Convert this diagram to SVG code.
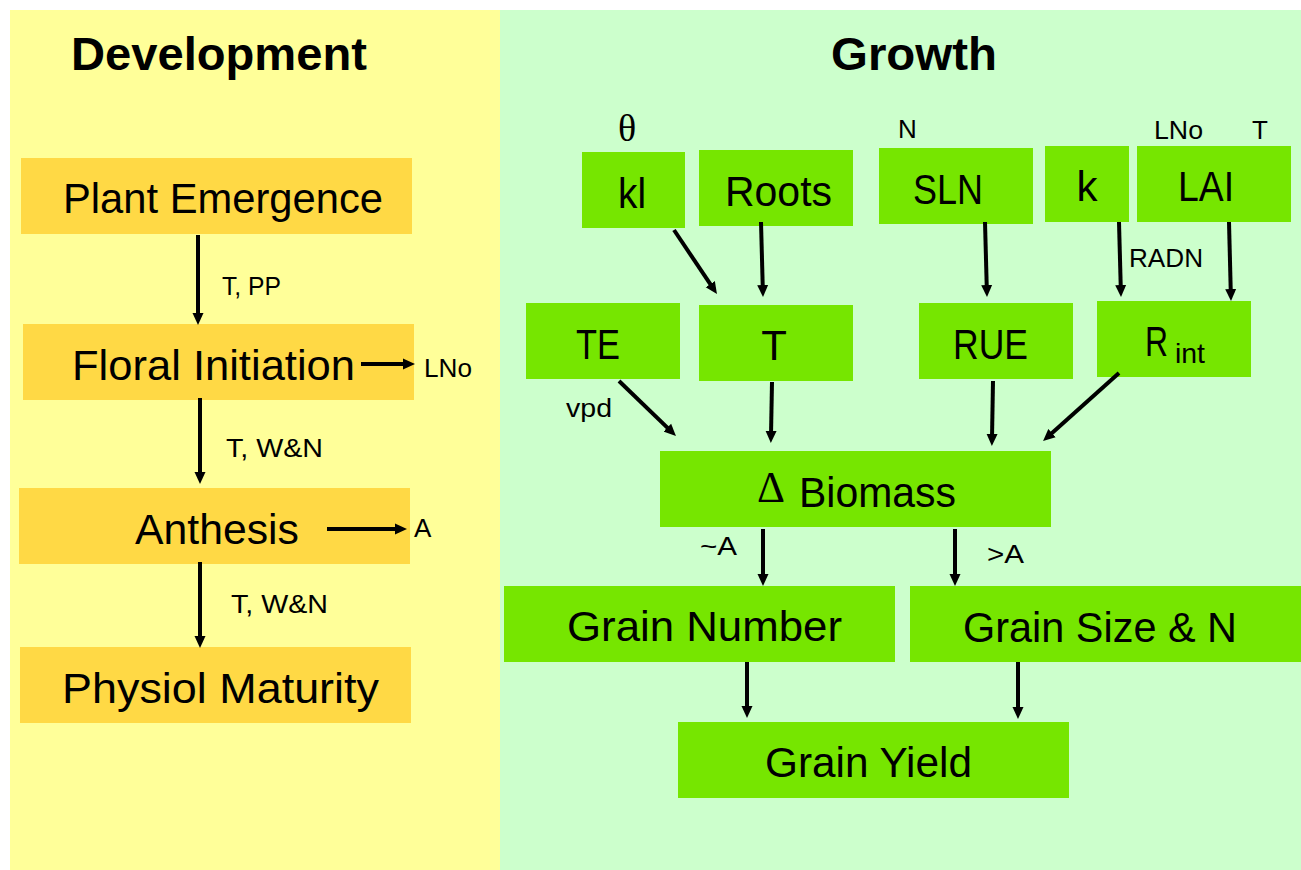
<svg xmlns="http://www.w3.org/2000/svg" width="1301" height="870" viewBox="0 0 1301 870">
<style>
.dev{fill:#FFD945}
.grn{fill:#76E600}
.t{font-family:"Liberation Sans",Arial,sans-serif;fill:#000}
.big{font-size:42px}
.sm{font-size:26px}
.ttl{font-size:47px;font-weight:bold}
.sym{font-family:"Liberation Serif","DejaVu Serif",serif;fill:#000}
.c{stroke:#000;stroke-width:4;fill:none;marker-end:url(#ah)}
</style>
<defs>
<marker id="ah" viewBox="0 0 12 12" markerWidth="12" markerHeight="12" markerUnits="userSpaceOnUse" refX="4" refY="6" orient="auto">
<path d="M0,0.5 L12,6 L0,11.5 z" fill="#000"/>
</marker>
</defs>
<rect x="0" y="0" width="1301" height="870" fill="#fff"/>
<rect id="panel-dev" x="10" y="10" width="490" height="860" fill="#FFFF99"/>
<rect id="panel-growth" x="500" y="10" width="801" height="860" fill="#CCFFCC"/>
<text class="t ttl" x="71" y="70" textLength="296" lengthAdjust="spacingAndGlyphs">Development</text>
<text class="t ttl" x="831" y="70" textLength="166" lengthAdjust="spacingAndGlyphs">Growth</text>

<g id="plant-emergence"><rect class="dev" x="21" y="158" width="391" height="76"/><text class="t big" x="63" y="213" textLength="320" lengthAdjust="spacingAndGlyphs">Plant Emergence</text></g>
<g id="floral-initiation"><rect class="dev" x="23" y="324" width="391" height="76"/><text class="t big" x="72" y="380" textLength="283" lengthAdjust="spacingAndGlyphs">Floral Initiation</text></g>
<g id="anthesis"><rect class="dev" x="19" y="488" width="391" height="76"/><text class="t big" x="135" y="544" textLength="164" lengthAdjust="spacingAndGlyphs">Anthesis</text></g>
<g id="physiol-maturity"><rect class="dev" x="20" y="647" width="391" height="76"/><text class="t big" x="62" y="703" textLength="317" lengthAdjust="spacingAndGlyphs">Physiol Maturity</text></g>

<g id="kl"><rect class="grn" x="582" y="152" width="103" height="76"/><text class="t big" x="618" y="208" textLength="28" lengthAdjust="spacingAndGlyphs">kl</text></g>
<g id="roots"><rect class="grn" x="699" y="150" width="154" height="76"/><text class="t big" x="725" y="206" textLength="107" lengthAdjust="spacingAndGlyphs">Roots</text></g>
<g id="sln"><rect class="grn" x="879" y="148" width="154" height="76"/><text class="t big" x="913" y="204" textLength="70" lengthAdjust="spacingAndGlyphs">SLN</text></g>
<g id="k"><rect class="grn" x="1045" y="146" width="84" height="76"/><text class="t big" x="1087" y="201" text-anchor="middle">k</text></g>
<g id="lai"><rect class="grn" x="1137" y="146" width="154" height="76"/><text class="t big" x="1178" y="201" textLength="56" lengthAdjust="spacingAndGlyphs">LAI</text></g>
<g id="te"><rect class="grn" x="526" y="303" width="154" height="76"/><text class="t big" x="576" y="359" textLength="44" lengthAdjust="spacingAndGlyphs">TE</text></g>
<g id="t"><rect class="grn" x="699" y="305" width="154" height="76"/><text class="t big" x="774" y="360" text-anchor="middle">T</text></g>
<g id="rue"><rect class="grn" x="919" y="303" width="154" height="76"/><text class="t big" x="953" y="359" textLength="75" lengthAdjust="spacingAndGlyphs">RUE</text></g>
<g id="rint"><rect class="grn" x="1097" y="301" width="154" height="76"/><text class="t big" x="1145" y="356" textLength="23" lengthAdjust="spacingAndGlyphs">R</text><text class="t" style="font-size:28px" x="1175" y="363" textLength="30" lengthAdjust="spacingAndGlyphs">int</text></g>
<g id="biomass"><rect class="grn" x="660" y="451" width="391" height="76"/><text class="sym" style="font-size:44px" x="757" y="502" textLength="28" lengthAdjust="spacingAndGlyphs">Δ</text><text class="t big" x="799" y="507" textLength="157" lengthAdjust="spacingAndGlyphs">Biomass</text></g>
<g id="grain-number"><rect class="grn" x="504" y="586" width="391" height="76"/><text class="t big" x="567" y="641" textLength="275" lengthAdjust="spacingAndGlyphs">Grain Number</text></g>
<g id="grain-size"><rect class="grn" x="910" y="586" width="391" height="76"/><text class="t big" x="963" y="642" textLength="274" lengthAdjust="spacingAndGlyphs">Grain Size &amp; N</text></g>
<g id="grain-yield"><rect class="grn" x="678" y="722" width="391" height="76"/><text class="t big" x="765" y="777" textLength="207" lengthAdjust="spacingAndGlyphs">Grain Yield</text></g>

<g id="labels">
<text class="t sm" x="222" y="295" textLength="59" lengthAdjust="spacingAndGlyphs">T, PP</text>
<text class="t sm" x="424" y="377" textLength="48" lengthAdjust="spacingAndGlyphs">LNo</text>
<text class="t sm" x="226" y="457" textLength="97" lengthAdjust="spacingAndGlyphs">T, W&amp;N</text>
<text class="t sm" x="414" y="537">A</text>
<text class="t sm" x="231" y="613" textLength="97" lengthAdjust="spacingAndGlyphs">T, W&amp;N</text>
<text class="sym" style="font-size:38px" x="627" y="141" text-anchor="middle">θ</text>
<text class="t sm" x="898" y="138">N</text>
<text class="t sm" x="1154" y="139" textLength="49" lengthAdjust="spacingAndGlyphs">LNo</text>
<text class="t sm" x="1252" y="139">T</text>
<text class="t sm" x="1129" y="267" textLength="74" lengthAdjust="spacingAndGlyphs">RADN</text>
<text class="t sm" x="566" y="417" textLength="46" lengthAdjust="spacingAndGlyphs">vpd</text>
<text class="t sm" x="700" y="555" textLength="37" lengthAdjust="spacingAndGlyphs">~A</text>
<text class="t sm" x="987" y="563" textLength="37" lengthAdjust="spacingAndGlyphs">&gt;A</text>
</g>

<g id="connectors">
<line class="c" x1="198" y1="235" x2="198" y2="317"/>
<line class="c" x1="200" y1="398" x2="200" y2="476"/>
<line class="c" x1="200" y1="562" x2="200" y2="640"/>
<line class="c" x1="361" y1="364" x2="407" y2="364"/>
<line class="c" x1="327" y1="529" x2="399" y2="529"/>
<line class="c" x1="674" y1="230" x2="712.5" y2="287.4"/>
<line class="c" x1="761" y1="222" x2="762.8" y2="289"/>
<line class="c" x1="985" y1="222" x2="986.8" y2="289"/>
<line class="c" x1="1119" y1="222" x2="1120.8" y2="289"/>
<line class="c" x1="1229" y1="222" x2="1230.8" y2="293"/>
<line class="c" x1="619" y1="381" x2="670.2" y2="430.4"/>
<line class="c" x1="772" y1="382" x2="771" y2="435"/>
<line class="c" x1="993" y1="381" x2="992" y2="438"/>
<line class="c" x1="1119" y1="373" x2="1049" y2="435.7"/>
<line class="c" x1="763" y1="529" x2="763" y2="578"/>
<line class="c" x1="955" y1="529" x2="955" y2="578"/>
<line class="c" x1="747" y1="662" x2="747" y2="710"/>
<line class="c" x1="1018" y1="662" x2="1018" y2="711"/>
</g>
</svg>
